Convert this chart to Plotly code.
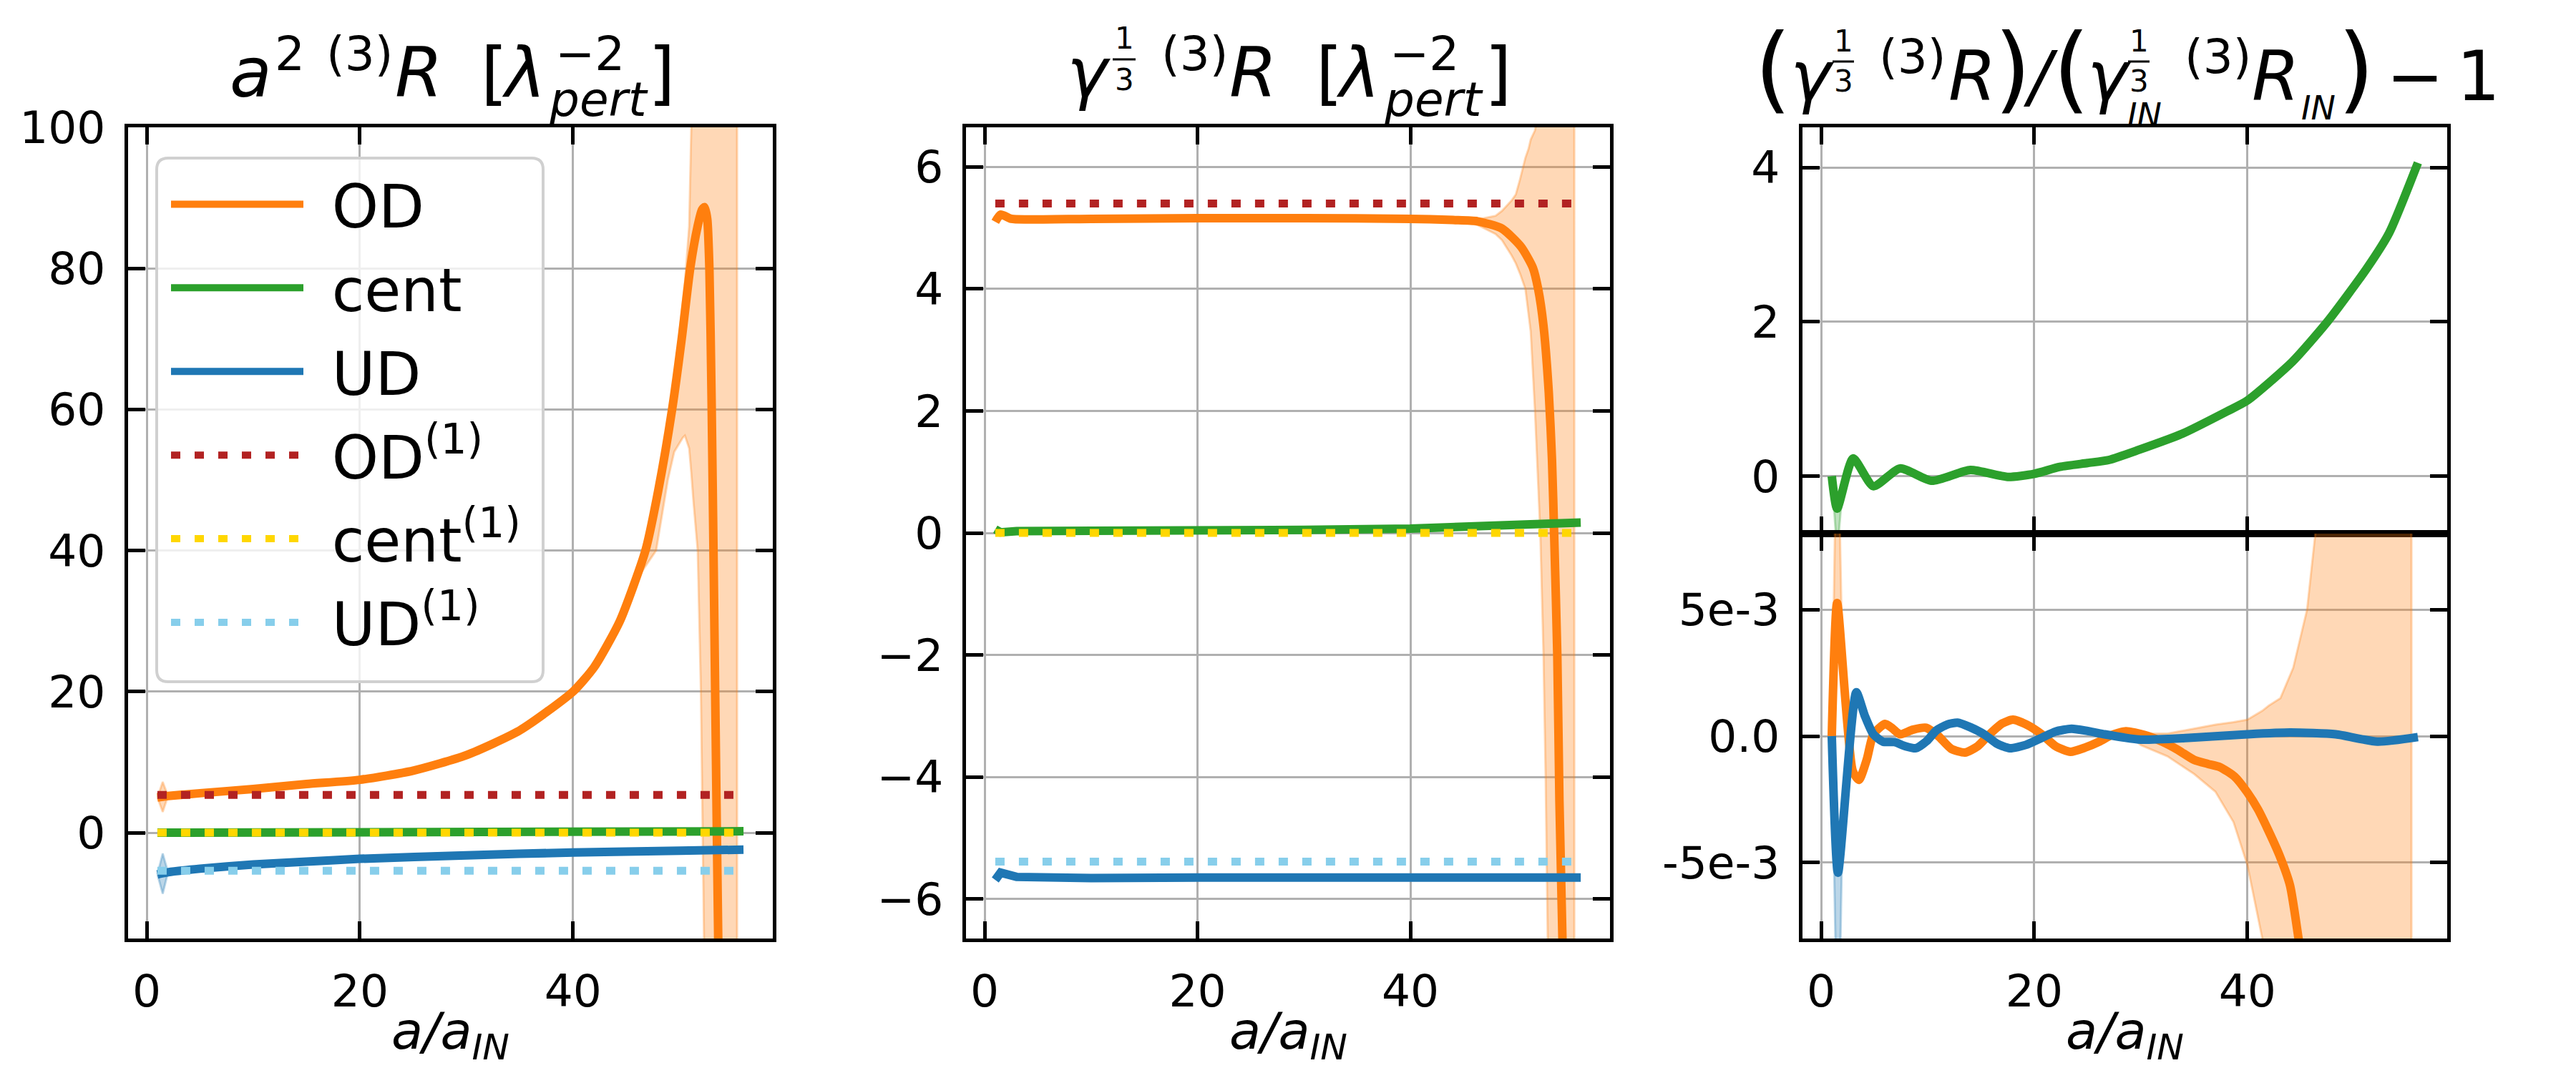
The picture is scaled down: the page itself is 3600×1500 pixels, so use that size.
import plotly.graph_objects as go

# ---------------------------------------------------------------- data
# Panel 1 : a^2 (3)R  [lambda_pert^-2]
p1_od_x = [1, 1.5, 2, 5, 10, 15, 20, 25, 30, 35, 40, 42, 44.4, 46.8, 48, 49.3, 50.2, 51.0, 51.7,
           52.1, 52.35, 52.6, 52.8, 53.0, 53.2, 53.5, 53.8, 54.1]
p1_od_y = [5.0, 5.1, 5.2, 5.6, 6.2, 6.9, 7.5, 8.8, 11.0, 14.5, 20.0, 23.5, 30.0, 40.0, 48.5, 60.0,
           70.0, 80.0, 86.0, 88.3, 88.7, 87.0, 80.0, 62.0, 38.0, 0.0, -35.0, -70.0]
p1_cent_x = [1, 10, 20, 30, 40, 50, 56]
p1_cent_y = [0.0, 0.02, 0.04, 0.07, 0.10, 0.15, 0.20]
p1_ud_x = [1, 2, 5, 10, 15, 20, 30, 40, 50, 56]
p1_ud_y = [-5.9, -5.6, -5.1, -4.5, -4.1, -3.7, -3.2, -2.8, -2.55, -2.4]
p1_band_x = [44.4, 46.0, 47.8, 48.9, 49.5, 50.3, 50.5, 50.9, 51.1, 51.3, 51.4, 51.7, 52.0, 52.2, 52.5, 55.4]
p1_band_hi = [30.0, 37.2, 47.2, 56.5, 64.0, 75.0, 78.0, 86.0, 100.0, 130.0, 500, 500, 500, 500, 500, 500]
p1_band_lo = [30.0, 36.0, 40.0, 50.0, 54.0, 56.0, 56.3, 54.5, 51.0, 47.0, 45.0, 40.0, 20.0, 0.0, -40.0, -500]
p1_spike_x = [1, 1.5, 2]
p1_od_spike_hi = [5.0, 7.2, 5.2]
p1_od_spike_lo = [5.0, 2.95, 5.2]
p1_ud_spike_hi = [-5.9, -2.95, -5.6]
p1_ud_spike_lo = [-5.9, -8.65, -5.6]
p1_od1 = 5.36
p1_cent1 = 0.0
p1_ud1 = -5.4

# Panel 2 : gamma^(1/3) (3)R
p2_od_x = [1, 1.5, 2.5, 4, 10, 20, 30, 40, 44, 46.3, 48.6, 50.4, 51.5, 52.0, 52.5, 53.0, 53.3, 53.5,
           53.8, 54.0, 54.3]
p2_od_y = [5.10, 5.22, 5.15, 5.14, 5.15, 5.16, 5.16, 5.15, 5.13, 5.11, 4.99, 4.69, 4.35, 4.00, 3.40,
           2.30, 1.20, 0.00, -2.00, -4.40, -6.80]
p2_cent_x = [1, 1.5, 3, 10, 20, 30, 40, 50, 56]
p2_cent_y = [0.06, 0.01, 0.03, 0.03, 0.04, 0.05, 0.07, 0.12, 0.17]
p2_ud_x = [1, 1.5, 3, 10, 20, 30, 40, 50, 56]
p2_ud_y = [-5.69, -5.57, -5.64, -5.66, -5.65, -5.65, -5.65, -5.65, -5.65]
p2_band_x = [44, 46.3, 48, 48.6, 49.5, 49.9, 50.3, 50.8, 51.1, 51.3, 51.7, 51.8, 52.2, 52.5, 52.7,
             52.9, 53.1, 55.4]
p2_band_hi = [5.13, 5.14, 5.2, 5.28, 5.45, 5.55, 5.8, 6.15, 6.3, 6.45, 6.6, 6.7, 20, 20, 20, 20, 20, 20]
p2_band_lo = [5.13, 5.05, 4.9, 4.8, 4.55, 4.42, 4.25, 4.0, 3.6, 3.3, 2.0, 1.6, 0.0, -2.0, -4.0,
              -6.7, -9.0, -20]
p2_od1 = 5.40
p2_cent1 = 0.0
p2_ud1 = -5.39

# Panel 3 (upper) : relative change, cent
p3_cent_x = [1, 1.5, 3.0, 4.9, 7.4, 10.4, 14.0, 17.5, 20, 22.4, 25, 27, 29.8, 33.9, 38.1, 40,
             44.2, 47.5, 51.2, 53.3, 56]
p3_cent_y = [0.0, -0.42, 0.23, -0.13, 0.10, -0.06, 0.08, -0.01, 0.03, 0.12, 0.17, 0.21, 0.34,
             0.55, 0.84, 0.98, 1.48, 2.0, 2.69, 3.15, 4.06]
p3_cent_spike_x = [1, 1.5, 2]
p3_cent_spike_hi = [0.0, -0.42, -0.2]
p3_cent_spike_lo = [0.0, -1.0, -0.2]

# Panel 3 (lower) : relative change, OD and UD
p3_od_x = [1, 1.5, 2.96, 3.55, 4.3, 4.9, 6.0, 6.7, 7.4, 8.6, 9.85, 11.0, 12.2, 13.5, 14.7, 15.8,
           17.0, 18.0, 19.3, 20.7, 22.0, 23.4, 24.8, 26.1, 27.3, 28.6, 30.3, 32.0, 33.5, 35.0,
           36.3, 37.4, 38.8, 40.0, 41.0, 41.9, 43.0, 44.0, 44.8, 45.5]
p3_od_y = [0, 5.26e-3, -1.37e-3, -1.73e-3, -0.9e-3, 0.07e-3, 0.48e-3, 0.3e-3, 0.07e-3, 0.25e-3,
           0.33e-3, 0.0, -0.5e-3, -0.65e-3, -0.4e-3, 0.07e-3, 0.5e-3, 0.65e-3, 0.45e-3, 0.07e-3,
           -0.4e-3, -0.62e-3, -0.45e-3, -0.22e-3, 0.05e-3, 0.19e-3, 0.05e-3, -0.22e-3, -0.55e-3,
           -0.94e-3, -1.1e-3, -1.22e-3, -1.6e-3, -2.23e-3, -2.9e-3, -3.67e-3, -4.7e-3, -5.9e-3,
           -8.0e-3, -10.0e-3]
p3_ud_x = [1, 1.58, 3.3, 4.1, 4.9, 5.8, 6.9, 7.9, 8.9, 9.9, 10.8, 11.8, 12.8, 14.0, 15.3, 16.5,
           17.7, 19.2, 20.7, 22.0, 23.5, 25.0, 26.6, 28.3, 30.0, 34.5, 40.0, 44.0, 48.3, 52.2, 56]
p3_ud_y = [0, -5.4e-3, 1.73e-3, 0.8e-3, 0.07e-3, -0.22e-3, -0.24e-3, -0.4e-3, -0.48e-3, -0.2e-3,
           0.22e-3, 0.45e-3, 0.53e-3, 0.35e-3, 0.07e-3, -0.3e-3, -0.48e-3, -0.35e-3, -0.07e-3,
           0.18e-3, 0.29e-3, 0.2e-3, 0.07e-3, -0.05e-3, -0.14e-3, -0.07e-3, 0.07e-3, 0.14e-3,
           0.07e-3, -0.22e-3, -0.04e-3]
p3_band_x = [28.6, 30.0, 32.5, 35.0, 37.0, 38.7, 40.0, 41.4, 42.0, 43.1, 44.3, 45.6, 46.5, 47.5, 55.4]
p3_band_hi = [0.19e-3, 0.10e-3, 0.10e-3, 0.29e-3, 0.45e-3, 0.55e-3, 0.65e-3, 1.0e-3, 1.2e-3,
              1.5e-3, 2.7e-3, 5.0e-3, 8.5e-3, 20e-3, 20e-3]
p3_band_lo = [0.19e-3, -0.36e-3, -0.8e-3, -1.5e-3, -2.2e-3, -3.4e-3, -5.1e-3, -8.0e-3, -10e-3,
              -20e-3, -20e-3, -20e-3, -20e-3, -20e-3, -20e-3]
p3_od_spike_x = [1, 1.5, 2]
p3_od_spike_hi = [0, 14e-3, 2.99e-3]
p3_od_spike_lo = [0, 5.26e-3, 2.99e-3]
p3_ud_spike_x = [1, 1.58, 2]
p3_ud_spike_hi = [0, -5.4e-3, -3.66e-3]
p3_ud_spike_lo = [0, -14e-3, -3.66e-3]

dot_x = [1, 56]
series_names = ["OD", "cent", "UD", "OD<sup>(1)</sup>", "cent<sup>(1)</sup>", "UD<sup>(1)</sup>"]

# ---------------------------------------------------------------- style
W, H = 3600, 1500
FONT = "DejaVu Sans"
C_OD, C_CENT, C_UD = "#ff7f0e", "#2ca02c", "#1f77b4"
C_OD1, C_CENT1, C_UD1 = "#b22222", "#ffd700", "#87ceeb"
RGB_OD, RGB_CENT, RGB_UD = "255,127,14", "44,160,44", "31,119,180"
LW = 12
DW = 11
DASH = "13px,20px"

fig = go.Figure()


def line(xa, ya, x, y, color, name=None, legend=False, dash=None, width=LW, shape="linear"):
    fig.add_trace(go.Scatter(
        x=x, y=y, mode="lines", name=name, showlegend=legend, legendgroup=name,
        line=dict(color=color, width=width, dash=dash, shape=shape,
                  smoothing=0.6 if shape == "spline" else None),
        xaxis=xa, yaxis=ya, hoverinfo="skip"))


def band(xa, ya, x, hi, lo, rgb):
    fig.add_trace(go.Scatter(
        x=list(x) + list(x)[::-1], y=list(hi) + list(lo)[::-1], mode="lines",
        fill="toself", fillcolor=f"rgba({rgb},0.3)",
        line=dict(color=f"rgba({rgb},0.3)", width=3),
        showlegend=False, xaxis=xa, yaxis=ya, hoverinfo="skip"))


LEG_PAD = "\u00a0\u200a"

# panel 1
band("x", "y", p1_band_x, p1_band_hi, p1_band_lo, RGB_OD)
band("x", "y", p1_spike_x, p1_od_spike_hi, p1_od_spike_lo, RGB_OD)
band("x", "y", p1_spike_x, p1_ud_spike_hi, p1_ud_spike_lo, RGB_UD)
line("x", "y", p1_od_x, p1_od_y, C_OD, LEG_PAD + series_names[0], True, shape="spline")
line("x", "y", p1_cent_x, p1_cent_y, C_CENT, LEG_PAD + series_names[1], True)
line("x", "y", p1_ud_x, p1_ud_y, C_UD, LEG_PAD + series_names[2], True, shape="spline")
line("x", "y", dot_x, [p1_od1] * 2, C_OD1, LEG_PAD + series_names[3], True, DASH, DW)
line("x", "y", dot_x, [p1_cent1] * 2, C_CENT1, LEG_PAD + series_names[4], True, DASH, DW)
line("x", "y", dot_x, [p1_ud1] * 2, C_UD1, LEG_PAD + series_names[5], True, DASH, DW)

# panel 2
band("x2", "y2", p2_band_x, p2_band_hi, p2_band_lo, RGB_OD)
line("x2", "y2", p2_od_x, p2_od_y, C_OD, shape="spline")
line("x2", "y2", p2_cent_x, p2_cent_y, C_CENT)
line("x2", "y2", p2_ud_x, p2_ud_y, C_UD)
line("x2", "y2", dot_x, [p2_od1] * 2, C_OD1, dash=DASH, width=DW)
line("x2", "y2", dot_x, [p2_cent1] * 2, C_CENT1, dash=DASH, width=DW)
line("x2", "y2", dot_x, [p2_ud1] * 2, C_UD1, dash=DASH, width=DW)

# panel 3 upper
band("x3", "y3", p3_cent_spike_x, p3_cent_spike_hi, p3_cent_spike_lo, RGB_CENT)
line("x3", "y3", p3_cent_x, p3_cent_y, C_CENT, shape="spline")

# panel 3 lower
band("x4", "y4", p3_band_x, p3_band_hi, p3_band_lo, RGB_OD)
band("x4", "y4", p3_od_spike_x, p3_od_spike_hi, p3_od_spike_lo, RGB_OD)
band("x4", "y4", p3_ud_spike_x, p3_ud_spike_hi, p3_ud_spike_lo, RGB_UD)
line("x4", "y4", p3_od_x, p3_od_y, C_OD, shape="spline")
line("x4", "y4", p3_ud_x, p3_ud_y, C_UD, shape="spline")

# ---------------------------------------------------------------- axes
XR = [-1.75, 58.75]
common = dict(showline=True, linecolor="black", linewidth=5, mirror="ticks",
              ticks="inside", ticklen=24, tickwidth=4.5, tickcolor="black",
              showgrid=True, gridcolor="#b0b0b0", gridwidth=2.7, zeroline=False,
              automargin=False,
              tickfont=dict(family=FONT, size=63, color="black"))


def dom_x(l, r):
    return [l / W, r / W]


def dom_y(t, b):
    return [1 - b / H, 1 - t / H]


TOP, BOT, SPLIT = 178, 1312, 746
P1X, P2X, P3X = (179, 1080), (1350, 2250), (2519, 3420)

fig.update_layout(
    template="none",
    xaxis=dict(common, domain=dom_x(*P1X), range=XR, tickvals=[0, 20, 40], anchor="y",
               ticklabelstandoff=14),
    yaxis=dict(common, domain=dom_y(TOP, BOT), range=[-15, 100],
               tickvals=[0, 20, 40, 60, 80, 100], anchor="x", ticklabelstandoff=14),
    xaxis2=dict(common, domain=dom_x(*P2X), range=XR, tickvals=[0, 20, 40], anchor="y2",
                ticklabelstandoff=14),
    yaxis2=dict(common, domain=dom_y(TOP, BOT), range=[-6.65, 6.65],
                tickvals=[-6, -4, -2, 0, 2, 4, 6], anchor="x2", ticklabelstandoff=14),
    xaxis3=dict(common, domain=dom_x(*P3X), range=XR, tickvals=[0, 20, 40], anchor="y3",
                showticklabels=False),
    yaxis3=dict(common, domain=dom_y(TOP, SPLIT), range=[-0.745, 4.52],
                tickvals=[0, 2, 4], anchor="x3", ticklabelstandoff=14),
    xaxis4=dict(common, domain=dom_x(*P3X), range=XR, tickvals=[0, 20, 40], anchor="y4",
                ticklabelstandoff=14),
    yaxis4=dict(common, domain=dom_y(SPLIT, BOT), range=[-8e-3, 8e-3],
                tickvals=[-5e-3, 0, 5e-3], ticktext=["-5e-3", "0.0", "5e-3"], anchor="x4",
                ticklabelstandoff=14),
)

# ---------------------------------------------------------------- text helpers
DESC = 0.236


def txt(s, xc, base, size, italic=False):
    fig.add_annotation(text=f"<i>{s}</i>" if italic else s,
                       x=xc / W, y=1 - (base + DESC * size) / H, xref="paper", yref="paper",
                       xanchor="center", yanchor="bottom", showarrow=False,
                       borderpad=0, borderwidth=0,
                       font=dict(family=FONT, size=size, color="black"))


def bar(x0, x1, y):
    fig.add_shape(type="line", xref="paper", yref="paper", x0=x0 / W, x1=x1 / W,
                  y0=1 - y / H, y1=1 - y / H, line=dict(color="black", width=3))


# title 1
txt("a", 350, 135, 96, True)
txt("2", 405, 98, 66)
txt("(3)", 503, 98, 66)
txt("R", 585, 135, 96, True)
txt("[", 690, 135, 96)
txt("λ", 732, 135, 96, True)
txt("−2", 824, 98, 66)
txt("pert", 836, 162, 66, True)
txt("]", 925, 135, 96)

# title 2
txt("γ", 1521, 135, 96, True)
txt("1", 1571, 68, 42)
bar(1555, 1587, 83)
txt("3", 1571, 126, 42)
txt("(3)", 1670, 98, 66)
txt("R", 1751, 135, 96, True)
txt("[", 1857, 135, 96)
txt("λ", 1898, 135, 96, True)
txt("−2", 1990, 98, 66)
txt("pert", 2003, 162, 66, True)
txt("]", 2093, 135, 96)

# title 3
txt("(", 2478, 141, 132)
txt("γ", 2532, 140, 96, True)
txt("1", 2576, 72, 42)
bar(2561, 2591, 86)
txt("3", 2576, 128, 42)
txt("(3)", 2673, 102, 66)
txt("R", 2756, 140, 96, True)
txt(")", 2813, 141, 132)
txt("/", 2851, 140, 96, True)
txt("(", 2895, 141, 132)
txt("γ", 2947, 140, 96, True)
txt("1", 2989, 72, 42)
bar(2974, 3004, 86)
txt("3", 2989, 128, 42)
txt("IN", 2997, 177, 46, True)
txt("(3)", 3100, 102, 66)
txt("R", 3180, 140, 96, True)
txt("IN", 3240, 167, 46, True)
txt(")", 3293, 141, 132)
txt("−", 3375, 140, 96)
txt("1", 3463, 140, 96)

# x-axis labels
for (l, r) in (P1X, P2X, P3X):
    fig.add_annotation(text="<i>a/a</i><sub><i>IN</i></sub>", x=(l + r) / 2 / W,
                       y=7 / H, xref="paper", yref="paper", xanchor="center",
                       yanchor="bottom", showarrow=False, borderpad=0, borderwidth=0,
                       font=dict(family=FONT, size=72, color="black"))

# legend frame (rounded)
LX0, LX1, LY0, LY1, RR = 219, 759, 221, 953, 16


def px(x):
    return x / W


def py(y):
    return 1 - y / H


path = (f"M {px(LX0 + RR)},{py(LY0)} L {px(LX1 - RR)},{py(LY0)} "
        f"Q {px(LX1)},{py(LY0)} {px(LX1)},{py(LY0 + RR)} L {px(LX1)},{py(LY1 - RR)} "
        f"Q {px(LX1)},{py(LY1)} {px(LX1 - RR)},{py(LY1)} L {px(LX0 + RR)},{py(LY1)} "
        f"Q {px(LX0)},{py(LY1)} {px(LX0)},{py(LY1 - RR)} L {px(LX0)},{py(LY0 + RR)} "
        f"Q {px(LX0)},{py(LY0)} {px(LX0 + RR)},{py(LY0)} Z")
fig.add_shape(type="path", path=path, xref="paper", yref="paper", layer="above",
              fillcolor="rgba(255,255,255,0.8)", line=dict(color="#d0d0d0", width=4))

fig.update_layout(
    width=W, height=H, margin=dict(l=0, r=0, t=0, b=0, pad=0, autoexpand=False),
    paper_bgcolor="white", plot_bgcolor="white",
    font=dict(family=FONT, color="black"),
    showlegend=True,
    legend=dict(x=(LX0 + 15) / W, y=1 - (LY0 + 4) / H, xanchor="left", yanchor="top",
                bgcolor="rgba(0,0,0,0)", borderwidth=0, itemwidth=185,
                font=dict(family=FONT, size=83, color="black"),
                tracegroupgap=6, traceorder="grouped"),
)

fig.write_html("out.html", config={"displayModeBar": False},
               post_script="document.body.style.margin='0';document.body.style.overflow='hidden';")
